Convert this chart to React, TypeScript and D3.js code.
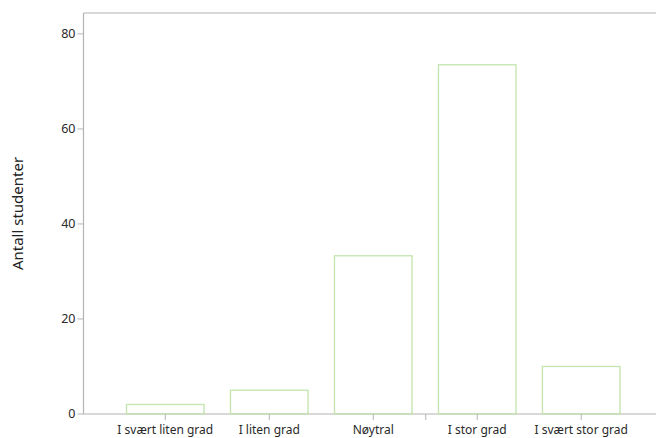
import React from "react";
import * as d3 from "d3";

const categories = ["I svært liten grad", "I liten grad", "Nøytral", "I stor grad", "I svært stor grad"];
const counts = [2, 5, 33.3, 73.5, 10];
const yTicks = [0, 20, 40, 60, 80];
const yLabel = "Antall studenter";

const W = 656;
const H = 438;
const left = 83.5;
const top = 13;
const bottom = 414;
const font = "'Noto Sans', 'Open Sans', sans-serif";

export default function App() {
  const x = d3.scaleBand<string>().domain(categories).range([126.5, 620]).paddingInner(0.254).paddingOuter(0);
  const y = d3.scaleLinear().domain([0, 84.4]).range([bottom, top]);
  const axisColor = "#b4b4b4";
  const centers = categories.map((c) => (x(c) as number) + x.bandwidth() / 2);
  const strayTick = (centers[2] + centers[3]) / 2 + 0.5;
  return (
    <svg width={W} height={H} style={{ position: "absolute", left: 0, top: 0, background: "#fff" }}>
      <line x1={left} x2={W} y1={top} y2={top} stroke={axisColor} strokeWidth={1.2} />
      <line x1={left} x2={left} y1={top} y2={bottom} stroke={axisColor} strokeWidth={1.2} />
      <line x1={left} x2={W} y1={bottom} y2={bottom} stroke={axisColor} strokeWidth={1.2} />
      {yTicks.map((t) => (
        <g key={t}>
          <line x1={left - 6} x2={left} y1={y(t)} y2={y(t)} stroke={axisColor} strokeWidth={1} />
          <text x={left - 8} y={y(t)} dy="0.35em" textAnchor="end" fontSize={12.5} fontFamily={font} fill="#2a2a2a">
            {t}
          </text>
        </g>
      ))}
      {categories.map((c, i) => (
        <rect
          key={c}
          x={x(c)}
          y={y(counts[i])}
          width={x.bandwidth()}
          height={bottom - y(counts[i])}
          fill="none"
          stroke="#c2e4ae"
          strokeWidth={1.3}
        />
      ))}
      {categories.map((c, i) => (
        <g key={c}>
          <line x1={centers[i]} x2={centers[i]} y1={bottom} y2={bottom + 6} stroke={axisColor} strokeWidth={1} />
          <text x={centers[i]} y={433.5} textAnchor="middle" fontSize={12} fontFamily={font} fill="#2a2a2a">
            {c}
          </text>
        </g>
      ))}
      <line x1={strayTick} x2={strayTick} y1={bottom} y2={bottom + 6} stroke={axisColor} strokeWidth={1} />
      <text
        transform={`translate(23, ${(y(0) + y(84.4)) / 2}) rotate(-90)`}
        textAnchor="middle"
        fontSize={15}
        fontFamily={font}
        fill="#222"
      >
        {yLabel}
      </text>
    </svg>
  );
}
